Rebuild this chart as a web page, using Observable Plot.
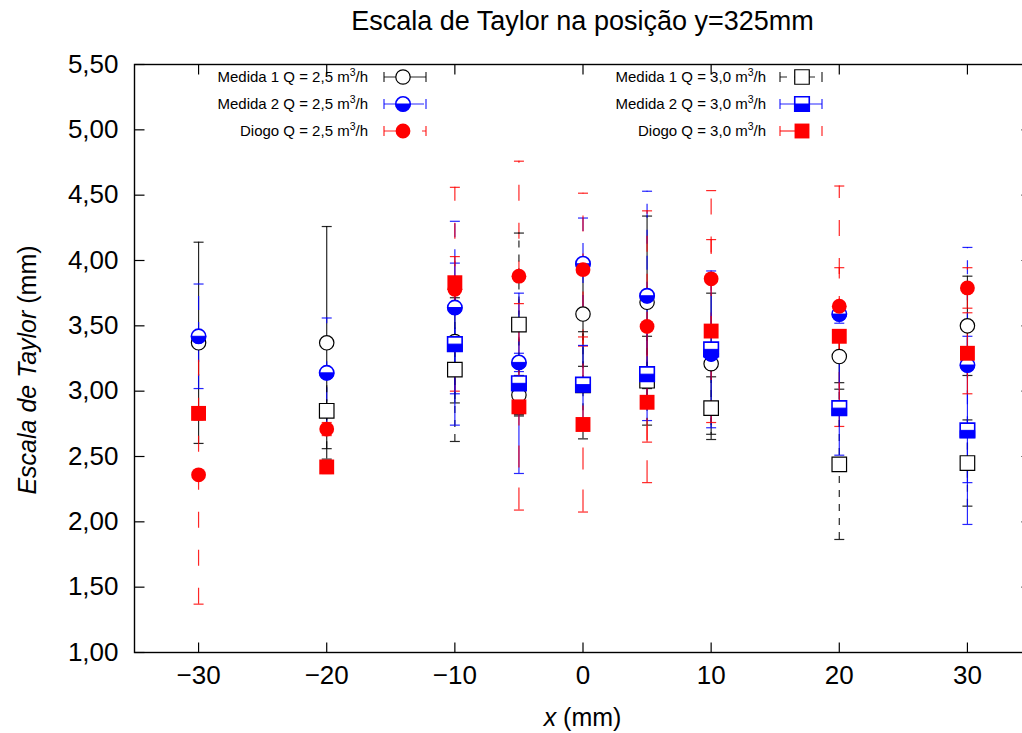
<!DOCTYPE html>
<html><head><meta charset="utf-8">
<script src="https://cdn.jsdelivr.net/npm/d3@7"></script>
<script src="https://cdn.jsdelivr.net/npm/@observablehq/plot@0.6"></script>
<style>
html,body{margin:0;padding:0;overflow:hidden;background:#fff;}
#chart svg{max-width:none !important;width:1031px !important;height:733px !important;}
</style></head><body><div id="chart"></div>
<script>
// ---- data ----
const positions = [-30, -20, -10, -5, 0, 5, 10, 20, 30];
const m1a    = [3.37, 3.37, 3.38, 2.97, 3.59, 3.68, 3.21, 3.265, 3.50];
const m1aErr = [0.77, 0.89, 0.47, 0.15, 0.40, 0.66, 0.54, 0.20, 0.38];
const m2a    = [3.42, 3.14, 3.64, 3.22, 3.975, 3.73, 3.285, 3.59, 3.20];
const m2aErr = [0.40, 0.42, 0.66, 0.07, 0.35, 0.80, 0.08, 0.07, 0.90];
const da     = [2.36, 2.71, 3.78, 3.88, 3.93, 3.495, 3.86, 3.65, 3.79];
const daErr  = [0.99, 0.05, 0.78, 0.88, 0.585, 0.885, 0.675, 0.92, 0.155];
const m1b    = [null, 2.85, 3.165, 3.51, 3.045, 3.08, 2.87, 2.44, 2.45];
const m1bErr = [null, 0.29, 0.55, 0.70, 0.41, 0.34, 0.24, 0.575, 0.33];
const m2b    = [null, null, 3.36, 3.06, 3.05, 3.13, 3.32, 2.87, 2.70];
const m2bErr = [null, null, 0.62, 0.69, 0.30, 0.355, 0.60, 0.36, 0.72];
const db     = [2.83, 2.42, 3.83, 2.88, 2.745, 2.915, 3.46, 3.42, 3.29];
const dbErr  = [0.05, 0.05, 0.20, 0.79, 0.67, 0.615, 0.70, 0.525, 0.31];

const yTicks = [1, 1.5, 2, 2.5, 3, 3.5, 4, 4.5, 5, 5.5];
const xTicks = [-30, -20, -10, 0, 10, 20, 30];

const titleText = "Escala de Taylor na posição y=325mm";
const seriesLabels = [
  ["Medida 1 Q = 2,5 m", "3", "/h"],
  ["Medida 2 Q = 2,5 m", "3", "/h"],
  ["Diogo Q = 2,5 m", "3", "/h"],
  ["Medida 1 Q = 3,0 m", "3", "/h"],
  ["Medida 2 Q = 3,0 m", "3", "/h"],
  ["Diogo Q = 3,0 m", "3", "/h"]
];

// ---- styles ----
const FONT = "'Liberation Sans', Arial, Helvetica, sans-serif";
const BLUE = "#0000ff", RED = "#ff0000", BLACK = "#000000";
const series = [
  {vals: m1a, errs: m1aErr, color: BLACK, dash: null,    marker: "circleOpen", col: 0, row: 0},
  {vals: m2a, errs: m2aErr, color: BLUE,  dash: "14,12", marker: "circleHalf", col: 0, row: 1},
  {vals: da,  errs: daErr,  color: RED,   dash: "16,22", marker: "circleFill", col: 0, row: 2},
  {vals: m1b, errs: m1bErr, color: BLACK, dash: "7,7",   marker: "squareOpen", col: 1, row: 0},
  {vals: m2b, errs: m2bErr, color: BLUE,  dash: null,    marker: "squareHalf", col: 1, row: 1},
  {vals: db,  errs: dbErr,  color: RED,   dash: "22,20", marker: "squareFill", col: 1, row: 2}
];
series.forEach((s, i) => {
  s.label = seriesLabels[i];
  s.rows = positions
    .map((x, j) => ({x, y: s.vals[j], lo: s.vals[j] - s.errs[j], hi: s.vals[j] + s.errs[j], ok: s.vals[j] != null}))
    .filter(d => d.ok);
});

// ---- custom symbols ----
const capSym = {draw(ctx) { ctx.moveTo(-5, 0); ctx.lineTo(5, 0); }};
const lowerHalfCircle = {draw(ctx, size) { const r = Math.sqrt(size / Math.PI); ctx.moveTo(r, 0); ctx.arc(0, 0, r, 0, Math.PI); ctx.closePath(); }};
const lowerHalfSquare = {draw(ctx, size) { const s = Math.sqrt(size); ctx.rect(-s / 2, 0, s, s / 2); }};
const tickRight = {draw(ctx) { ctx.moveTo(0, 0); ctx.lineTo(10, 0); }};
const tickLeft  = {draw(ctx) { ctx.moveTo(0, 0); ctx.lineTo(-10, 0); }};
const tickUp    = {draw(ctx) { ctx.moveTo(0, 0); ctx.lineTo(0, -10); }};
const tickDown  = {draw(ctx) { ctx.moveTo(0, 0); ctx.lineTo(0, 10); }};

const RC = 7.2;   // circle radius
const RS = 8.2;   // square "r" (side = r*sqrt(pi))

function markerMarks(s, data) {
  const base = {x: "x", y: "y"};
  switch (s.marker) {
    case "circleOpen": return [Plot.dot(data, {...base, r: RC, stroke: s.color, fill: "white", strokeWidth: 1.2})];
    case "circleHalf": return [
      Plot.dot(data, {...base, r: RC, stroke: s.color, fill: "white", strokeWidth: 1.6}),
      Plot.dot(data, {...base, r: RC, symbol: lowerHalfCircle, fill: s.color, stroke: s.color, strokeWidth: 1})];
    case "circleFill": return [Plot.dot(data, {...base, r: RC + 0.2, fill: s.color, stroke: "none"})];
    case "squareOpen": return [Plot.dot(data, {...base, r: RS, symbol: "square", stroke: s.color, fill: "white", strokeWidth: 1.2})];
    case "squareHalf": return [
      Plot.dot(data, {...base, r: RS, symbol: "square", stroke: s.color, fill: "white", strokeWidth: 1.6}),
      Plot.dot(data, {...base, r: RS, symbol: lowerHalfSquare, fill: s.color, stroke: s.color, strokeWidth: 1})];
    case "squareFill": return [Plot.dot(data, {...base, r: RS + 0.2, symbol: "square", fill: s.color, stroke: "none"})];
  }
}

const errorMarks = series.flatMap(s => [
  Plot.ruleX(s.rows, {x: "x", y1: "lo", y2: "hi", stroke: s.color, strokeWidth: 1.2, strokeDasharray: s.dash, strokeOpacity: 0.85}),
  Plot.dot(s.rows, {x: "x", y: "lo", symbol: capSym, r: 5, stroke: s.color, strokeWidth: 1.2, strokeOpacity: 0.85}),
  Plot.dot(s.rows, {x: "x", y: "hi", symbol: capSym, r: 5, stroke: s.color, strokeWidth: 1.2, strokeOpacity: 0.85})
]);
const pointMarks = series.flatMap(s => markerMarks(s, s.rows));

// ---- texts & legend (render function) ----
function decorations(index, scales, values, dims) {
  const g = d3.create("svg:g").attr("font-family", FONT).attr("fill", "black");
  const cx = (dims.marginLeft + dims.width - dims.marginRight) / 2;
  const cy = (dims.marginTop + dims.height - dims.marginBottom) / 2;
  g.append("text").attr("x", cx).attr("y", 30).attr("text-anchor", "middle").attr("font-size", 27).text(titleText);
  const xl = g.append("text").attr("x", cx).attr("y", 726).attr("text-anchor", "middle").attr("font-size", 25);
  xl.append("tspan").attr("font-style", "italic").text("x");
  xl.append("tspan").text(" (mm)");
  const yl = g.append("text").attr("transform", `translate(36,${cy + 12}) rotate(-90)`).attr("text-anchor", "middle").attr("font-size", 25);
  yl.append("tspan").attr("font-style", "italic").text("Escala de Taylor");
  yl.append("tspan").text(" (mm)");

  const rowsY = [77, 104, 131];
  series.forEach(s => {
    const tx = s.col === 0 ? 368 : 766;
    const x0 = s.col === 0 ? 384 : 780, x1 = s.col === 0 ? 426 : 822, mx = s.col === 0 ? 403 : 802;
    const y = rowsY[s.row];
    const t = g.append("text").attr("x", tx).attr("y", y + 5).attr("text-anchor", "end").attr("font-size", 15);
    t.append("tspan").text(s.label[0]);
    t.append("tspan").attr("font-size", 10.5).attr("dy", -6).text(s.label[1]);
    t.append("tspan").attr("dy", 6).text(s.label[2]);
    const lg = g.append("g").attr("stroke", s.color).attr("stroke-width", 1.2).attr("fill", "none").attr("stroke-opacity", 0.85);
    lg.append("line").attr("x1", x0).attr("x2", x1).attr("y1", y).attr("y2", y).attr("stroke-dasharray", s.dash);
    lg.append("line").attr("x1", x0).attr("x2", x0).attr("y1", y - 5).attr("y2", y + 5);
    lg.append("line").attr("x1", x1).attr("x2", x1).attr("y1", y - 5).attr("y2", y + 5);
    const m = g.append("g").attr("transform", `translate(${mx},${y})`);
    const circ = d3.symbol(d3.symbolCircle, Math.PI * RC * RC)();
    const sq = d3.symbol(d3.symbolSquare, Math.PI * RS * RS)();
    const hc = d3.symbol(lowerHalfCircle, Math.PI * RC * RC)();
    const hs = d3.symbol(lowerHalfSquare, Math.PI * RS * RS)();
    if (s.marker === "circleOpen") m.append("path").attr("d", circ).attr("fill", "white").attr("stroke", s.color).attr("stroke-width", 1.2);
    if (s.marker === "circleHalf") { m.append("path").attr("d", circ).attr("fill", "white").attr("stroke", s.color).attr("stroke-width", 1.6); m.append("path").attr("d", hc).attr("fill", s.color).attr("stroke", s.color); }
    if (s.marker === "circleFill") m.append("path").attr("d", d3.symbol(d3.symbolCircle, Math.PI * (RC + 0.2) ** 2)()).attr("fill", s.color);
    if (s.marker === "squareOpen") m.append("path").attr("d", sq).attr("fill", "white").attr("stroke", s.color).attr("stroke-width", 1.2);
    if (s.marker === "squareHalf") { m.append("path").attr("d", sq).attr("fill", "white").attr("stroke", s.color).attr("stroke-width", 1.6); m.append("path").attr("d", hs).attr("fill", s.color).attr("stroke", s.color); }
    if (s.marker === "squareFill") m.append("path").attr("d", d3.symbol(d3.symbolSquare, Math.PI * (RS + 0.2) ** 2)()).attr("fill", s.color);
  });
  return g.node();
}

const fmt = d => d.toFixed(2).replace(".", ",");

const chart = Plot.plot({
  width: 1031,
  height: 733,
  marginLeft: 134,
  marginRight: 0,
  marginTop: 64,
  marginBottom: 81,
  style: {fontFamily: FONT, fontSize: "26px", background: "white", color: "black", maxWidth: "none"},
  x: {domain: [-35, 35]},
  y: {domain: [1, 5.5]},
  marks: [
    Plot.axisY({ticks: yTicks, tickFormat: fmt, tickSize: 0, tickPadding: 16, label: null, fontSize: 26}),
    Plot.axisX({ticks: xTicks, tickSize: 0, tickPadding: 13, label: null, fontSize: 26}),
    Plot.dot(yTicks, {y: d => d, frameAnchor: "left", symbol: tickRight, r: 5, stroke: "black", strokeWidth: 1.2}),
    Plot.dot(yTicks, {y: d => d, frameAnchor: "right", symbol: tickLeft, r: 5, stroke: "black", strokeWidth: 1.2}),
    Plot.dot(xTicks, {x: d => d, frameAnchor: "bottom", symbol: tickUp, r: 5, stroke: "black", strokeWidth: 1.2}),
    Plot.dot(xTicks, {x: d => d, frameAnchor: "top", symbol: tickDown, r: 5, stroke: "black", strokeWidth: 1.2}),
    ...errorMarks,
    ...pointMarks,
    Plot.frame({stroke: "black", strokeWidth: 1.4}),
    decorations
  ]
});
document.getElementById("chart").appendChild(chart);
</script></body></html>
